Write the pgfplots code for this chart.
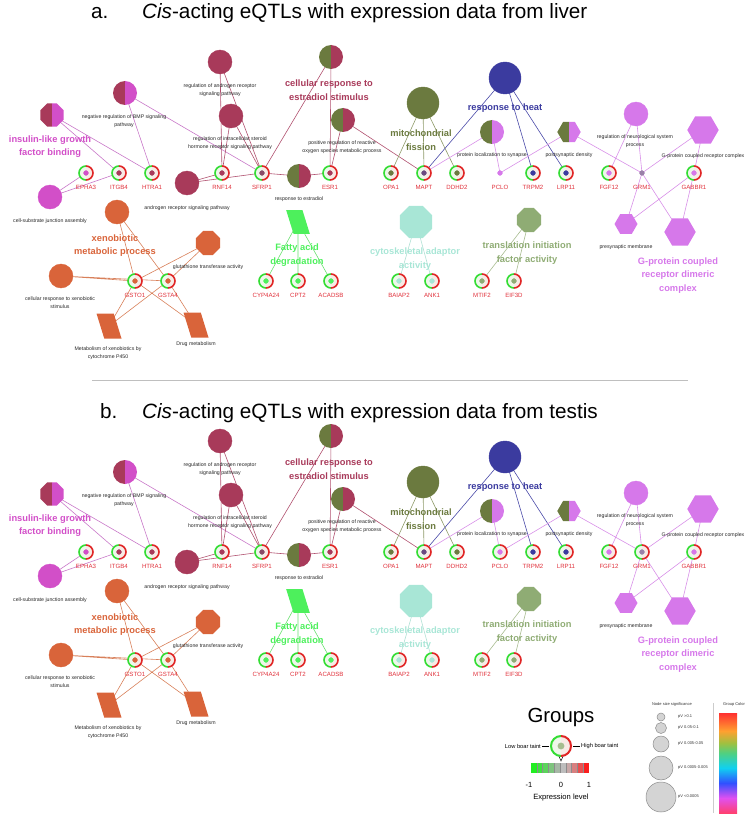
\documentclass[border=0pt]{standalone}
\usepackage{pgfplots}
\pgfplotsset{compat=1.18}
\usepackage{fontspec}
\setmainfont{Liberation Sans}
\definecolor{cPink}{HTML}{D24FC8}
\definecolor{cDRed}{HTML}{A83A5A}
\definecolor{cOlive}{HTML}{6B7A3F}
\definecolor{cBlue}{HTML}{3B3B9F}
\definecolor{cViolet}{HTML}{D678EA}
\definecolor{cOrange}{HTML}{D9643A}
\definecolor{cGreen}{HTML}{4DF05C}
\definecolor{cTeal}{HTML}{A8E6D6}
\definecolor{cSage}{HTML}{8FAC74}
\definecolor{ringG}{HTML}{33DD33}
\definecolor{ringR}{HTML}{E02525}
\definecolor{paleG}{HTML}{EEF7EA}
\definecolor{paleR}{HTML}{F7EBE6}
\definecolor{geneTxt}{HTML}{E0303A}
\definecolor{eP}{HTML}{C878C8}
\definecolor{eR}{HTML}{B0506E}
\definecolor{eO}{HTML}{8E9A68}
\definecolor{eB}{HTML}{4A4AA8}
\definecolor{eV}{HTML}{D890E8}
\definecolor{eOr}{HTML}{D8805A}
\definecolor{eG}{HTML}{6AE070}
\definecolor{eT}{HTML}{B0E0D4}
\definecolor{eS}{HTML}{A8BC90}
\definecolor{dSF}{HTML}{8A4A66}
\definecolor{dMA}{HTML}{6A4A80}
\definecolor{dGR}{HTML}{9A80A8}
\definecolor{rb1}{HTML}{FF4070}
\definecolor{rb2}{HTML}{E050F0}
\definecolor{rb3}{HTML}{3050FF}
\definecolor{rb4}{HTML}{10D0F0}
\definecolor{rb5}{HTML}{50D080}
\definecolor{rb6}{HTML}{A0C040}
\definecolor{rb7}{HTML}{FFA030}
\definecolor{rb8}{HTML}{FF3030}
\pgfdeclareverticalshading{rainbowbar}{100bp}{color(0bp)=(rb1); color(25bp)=(rb1); color(32.5bp)=(rb2); color(40bp)=(rb3); color(47.5bp)=(rb4); color(55bp)=(rb5); color(60bp)=(rb6); color(66bp)=(rb7); color(75bp)=(rb8); color(100bp)=(rb8)}
% plot marks
\pgfdeclareplotmark{hcL}{\pgfpathmoveto{\pgfqpoint{0pt}{\pgfplotmarksize}}\pgfpatharc{90}{270}{\pgfplotmarksize}\pgfpathclose\pgfusepathqfill}
\pgfdeclareplotmark{hcR}{\pgfpathmoveto{\pgfqpoint{0pt}{\pgfplotmarksize}}\pgfpatharc{90}{-90}{\pgfplotmarksize}\pgfpathclose\pgfusepathqfill}
\pgfdeclareplotmark{ringL}{\pgfpathmoveto{\pgfqpoint{0pt}{\pgfplotmarksize}}\pgfpatharc{90}{270}{\pgfplotmarksize}\pgfusepathqstroke}
\pgfdeclareplotmark{ringR}{\pgfpathmoveto{\pgfqpoint{0pt}{\pgfplotmarksize}}\pgfpatharc{90}{-90}{\pgfplotmarksize}\pgfusepathqstroke}
\pgfdeclareplotmark{octF}{%
\pgfpathmoveto{\pgfpointpolar{22.5}{\pgfplotmarksize}}%
\pgfpathlineto{\pgfpointpolar{67.5}{\pgfplotmarksize}}%
\pgfpathlineto{\pgfpointpolar{112.5}{\pgfplotmarksize}}%
\pgfpathlineto{\pgfpointpolar{157.5}{\pgfplotmarksize}}%
\pgfpathlineto{\pgfpointpolar{202.5}{\pgfplotmarksize}}%
\pgfpathlineto{\pgfpointpolar{247.5}{\pgfplotmarksize}}%
\pgfpathlineto{\pgfpointpolar{292.5}{\pgfplotmarksize}}%
\pgfpathlineto{\pgfpointpolar{337.5}{\pgfplotmarksize}}%
\pgfpathclose\pgfusepathqfill}
\pgfdeclareplotmark{octL}{%
\pgfpathmoveto{\pgfqpoint{0pt}{0.92388\pgfplotmarksize}}%
\pgfpathlineto{\pgfpointpolar{112.5}{\pgfplotmarksize}}%
\pgfpathlineto{\pgfpointpolar{157.5}{\pgfplotmarksize}}%
\pgfpathlineto{\pgfpointpolar{202.5}{\pgfplotmarksize}}%
\pgfpathlineto{\pgfpointpolar{247.5}{\pgfplotmarksize}}%
\pgfpathlineto{\pgfqpoint{0pt}{-0.92388\pgfplotmarksize}}%
\pgfpathclose\pgfusepathqfill}
\pgfdeclareplotmark{octR}{%
\pgfpathmoveto{\pgfqpoint{0pt}{0.92388\pgfplotmarksize}}%
\pgfpathlineto{\pgfpointpolar{67.5}{\pgfplotmarksize}}%
\pgfpathlineto{\pgfpointpolar{22.5}{\pgfplotmarksize}}%
\pgfpathlineto{\pgfpointpolar{-22.5}{\pgfplotmarksize}}%
\pgfpathlineto{\pgfpointpolar{-67.5}{\pgfplotmarksize}}%
\pgfpathlineto{\pgfqpoint{0pt}{-0.92388\pgfplotmarksize}}%
\pgfpathclose\pgfusepathqfill}
\pgfdeclareplotmark{hexF}{%
\pgfpathmoveto{\pgfpointpolar{0}{\pgfplotmarksize}}%
\pgfpathlineto{\pgfpointpolar{60}{\pgfplotmarksize}}%
\pgfpathlineto{\pgfpointpolar{120}{\pgfplotmarksize}}%
\pgfpathlineto{\pgfpointpolar{180}{\pgfplotmarksize}}%
\pgfpathlineto{\pgfpointpolar{240}{\pgfplotmarksize}}%
\pgfpathlineto{\pgfpointpolar{300}{\pgfplotmarksize}}%
\pgfpathclose\pgfusepathqfill}
\pgfdeclareplotmark{hexL}{%
\pgfpathmoveto{\pgfqpoint{0pt}{0.86603\pgfplotmarksize}}%
\pgfpathlineto{\pgfpointpolar{120}{\pgfplotmarksize}}%
\pgfpathlineto{\pgfpointpolar{180}{\pgfplotmarksize}}%
\pgfpathlineto{\pgfpointpolar{240}{\pgfplotmarksize}}%
\pgfpathlineto{\pgfqpoint{0pt}{-0.86603\pgfplotmarksize}}%
\pgfpathclose\pgfusepathqfill}
\pgfdeclareplotmark{hexR}{%
\pgfpathmoveto{\pgfqpoint{0pt}{0.86603\pgfplotmarksize}}%
\pgfpathlineto{\pgfpointpolar{60}{\pgfplotmarksize}}%
\pgfpathlineto{\pgfpointpolar{0}{\pgfplotmarksize}}%
\pgfpathlineto{\pgfpointpolar{-60}{\pgfplotmarksize}}%
\pgfpathlineto{\pgfqpoint{0pt}{-0.86603\pgfplotmarksize}}%
\pgfpathclose\pgfusepathqfill}
\pgfdeclareplotmark{para}{%
\pgfpathmoveto{\pgfqpoint{-\pgfplotmarksize}{\pgfplotmarksize}}%
\pgfpathlineto{\pgfqpoint{0.38\pgfplotmarksize}{\pgfplotmarksize}}%
\pgfpathlineto{\pgfqpoint{\pgfplotmarksize}{-\pgfplotmarksize}}%
\pgfpathlineto{\pgfqpoint{-0.38\pgfplotmarksize}{-\pgfplotmarksize}}%
\pgfpathclose\pgfusepathqfill}
% text helpers
\newcommand{\sm}[3]{\node[font=\fontsize{5.2}{7.8}\selectfont,align=center,text=black!85,inner sep=0pt] at (axis cs:#1,#2) {#3};}
\newcommand{\gl}[3]{\node[font=\fontsize{6.1}{7}\selectfont,text=geneTxt,inner sep=0pt] at (axis cs:#1,#2) {#3};}
\newcommand{\grp}[4]{\node[font=\bfseries\fontsize{9.3}{13.6}\selectfont,align=center,text=#4,inner sep=0pt] at (axis cs:#1,#2) {#3};}
\pgfplotsset{netaxis/.style={scale only axis, width=756pt, xmin=0, xmax=756, ymin=0, y dir=reverse, hide axis, clip=false}}
\newcommand{\network}[1]{%
% ---- edges
\addplot[eP, line width=0.6pt, unbounded coords=jump] coordinates {(52,115)(119,173) (nan,nan) (52,115)(152,173) (nan,nan) (125,93)(152,173) (nan,nan) (125,93)(262,173) (nan,nan) (50,197)(86,173) (nan,nan) (50,197)(119,173)};
\addplot[eR, line width=0.6pt, unbounded coords=jump] coordinates {(220,62)(222,173) (nan,nan) (220,62)(262,173) (nan,nan) (231,116)(222,173) (nan,nan) (231,116)(262,173) (nan,nan) (187,183)(222,173) (nan,nan) (187,183)(262,173) (nan,nan) (331,57)(262,173) (nan,nan) (331,57)(330,173) (nan,nan) (343,120)(330,173) (nan,nan) (343,120)(424,173) (nan,nan) (299,176)(262,173) (nan,nan) (299,176)(330,173)};
\addplot[eO, line width=0.6pt, unbounded coords=jump] coordinates {(423,103)(391,173) (nan,nan) (423,103)(424,173) (nan,nan) (423,103)(457,173)};
\addplot[eB, line width=0.6pt, unbounded coords=jump] coordinates {(505,78)(424,173) (nan,nan) (505,78)(533,173) (nan,nan) (505,78)(566,173)};
\addplot[eV, line width=0.6pt, unbounded coords=jump] coordinates {(492,132)(424,173) (nan,nan) (492,132)(500,173) (nan,nan) (569,132)(500,173) (nan,nan) (569,132)(642,173) (nan,nan) (636,114)(609,173) (nan,nan) (636,114)(642,173) (nan,nan) (703,130)(642,173) (nan,nan) (703,130)(694,173) (nan,nan) (626,224)(642,173) (nan,nan) (626,224)(694,173) (nan,nan) (680,232)(642,173) (nan,nan) (680,232)(694,173)};
\addplot[eOr, line width=0.6pt, unbounded coords=jump] coordinates {(117,212)(135,281) (nan,nan) (117,212)(168,281) (nan,nan) (208,243)(135,281) (nan,nan) (208,243)(168,281) (nan,nan) (61,276)(135,281) (nan,nan) (61,276)(168,281) (nan,nan) (109,326)(135,281) (nan,nan) (109,326)(168,281) (nan,nan) (196,325)(135,281) (nan,nan) (196,325)(168,281)};
\addplot[eG, line width=0.6pt, unbounded coords=jump] coordinates {(298,222)(266,281) (nan,nan) (298,222)(298,281) (nan,nan) (298,222)(331,281)};
\addplot[eT, line width=0.6pt, unbounded coords=jump] coordinates {(416,222)(399,281) (nan,nan) (416,222)(432,281)};
\addplot[eS, line width=0.6pt, unbounded coords=jump] coordinates {(529,220)(482,281) (nan,nan) (529,220)(514,281)};
% ---- term nodes
\addplot[only marks, mark=*, mark size=12, color=cPink] coordinates {(50,197)};
\addplot[only marks, mark=octL, mark size=12.5, color=cDRed] coordinates {(52,115)};
\addplot[only marks, mark=octR, mark size=12.5, color=cPink] coordinates {(52,115)};
\addplot[only marks, mark=hcL, mark size=12, color=cDRed] coordinates {(125,93)};
\addplot[only marks, mark=hcR, mark size=12, color=cPink] coordinates {(125,93)};
\addplot[only marks, mark=*, mark size=12, color=cDRed] coordinates {(220,62) (231,116) (187,183)};
\addplot[only marks, mark=hcL, mark size=12, color=cOlive] coordinates {(331,57) (343,120) (299,176) (492,132)};
\addplot[only marks, mark=hcR, mark size=12, color=cDRed] coordinates {(331,57) (343,120) (299,176)};
\addplot[only marks, mark=hcR, mark size=12, color=cViolet] coordinates {(492,132)};
\addplot[only marks, mark=*, mark size=16, color=cOlive] coordinates {(423,103)};
\addplot[only marks, mark=*, mark size=16, color=cBlue] coordinates {(505,78)};
\addplot[only marks, mark=hexL, mark size=11.7, color=cOlive] coordinates {(569,132)};
\addplot[only marks, mark=hexR, mark size=11.7, color=cViolet] coordinates {(569,132)};
\addplot[only marks, mark=*, mark size=12, color=cViolet] coordinates {(636,114)};
\addplot[only marks, mark=hexF, mark size=15.7, color=cViolet] coordinates {(703,130) (680,232)};
\addplot[only marks, mark=hexF, mark size=11.5, color=cViolet] coordinates {(626,224)};
\addplot[only marks, mark=*, mark size=12, color=cOrange] coordinates {(117,212) (61,276)};
\addplot[only marks, mark=octF, mark size=13, color=cOrange] coordinates {(208,243)};
\addplot[only marks, mark=para, mark size=12.5, color=cOrange] coordinates {(109,326) (196,325)};
\addplot[only marks, mark=para, mark size=11.8, color=cGreen] coordinates {(298,222)};
\addplot[only marks, mark=octF, mark size=17.5, color=cTeal] coordinates {(416,222)};
\addplot[only marks, mark=octF, mark size=13, color=cSage] coordinates {(529,220)};
% ---- gene rings
\addplot[only marks, mark=hcL, mark size=7, color=paleG] coordinates {(86,173) (119,173) (152,173) (222,173) (262,173) (330,173) (391,173) (424,173) (457,173) (533,173) (566,173) (609,173) (694,173) (135,281) (168,281) (266,281) (298,281) (331,281) (399,281) (432,281) (482,281) (514,281)};
\addplot[only marks, mark=hcR, mark size=7, color=paleR] coordinates {(86,173) (119,173) (152,173) (222,173) (262,173) (330,173) (391,173) (424,173) (457,173) (533,173) (566,173) (609,173) (694,173) (135,281) (168,281) (266,281) (298,281) (331,281) (399,281) (432,281) (482,281) (514,281)};
\addplot[only marks, mark=ringL, mark size=7, color=ringG, line width=1.6pt] coordinates {(86,173) (119,173) (152,173) (222,173) (262,173) (330,173) (391,173) (424,173) (457,173) (533,173) (566,173) (609,173) (694,173) (135,281) (168,281) (266,281) (298,281) (331,281) (399,281) (432,281) (482,281) (514,281)};
\addplot[only marks, mark=ringR, mark size=7, color=ringR, line width=1.6pt] coordinates {(86,173) (119,173) (152,173) (222,173) (262,173) (330,173) (391,173) (424,173) (457,173) (533,173) (566,173) (609,173) (694,173) (135,281) (168,281) (266,281) (298,281) (331,281) (399,281) (432,281) (482,281) (514,281)};
\ifnum#1=1
\addplot[only marks, mark=hcL, mark size=7, color=paleG] coordinates {(500,173) (642,173)};
\addplot[only marks, mark=hcR, mark size=7, color=paleR] coordinates {(500,173) (642,173)};
\addplot[only marks, mark=ringL, mark size=7, color=ringG, line width=1.6pt] coordinates {(500,173) (642,173)};
\addplot[only marks, mark=ringR, mark size=7, color=ringR, line width=1.6pt] coordinates {(500,173) (642,173)};
\fi
% ---- gene centre dots
\addplot[only marks, mark=*, mark size=2.4, color=cPink] coordinates {(86,173)};
\addplot[only marks, mark=*, mark size=2.4, color=cDRed] coordinates {(119,173) (152,173) (222,173) (330,173)};
\addplot[only marks, mark=*, mark size=2.4, color=dSF] coordinates {(262,173)};
\addplot[only marks, mark=*, mark size=2.4, color=cOlive] coordinates {(391,173) (457,173)};
\addplot[only marks, mark=*, mark size=2.4, color=dMA] coordinates {(424,173)};
\addplot[only marks, mark=*, mark size=2.4, color=cViolet] coordinates {(500,173) (609,173) (694,173)};
\addplot[only marks, mark=*, mark size=2.4, color=cBlue] coordinates {(533,173) (566,173)};
\addplot[only marks, mark=*, mark size=2.4, color=dGR] coordinates {(642,173)};
\addplot[only marks, mark=*, mark size=2.4, color=cOrange] coordinates {(135,281) (168,281)};
\addplot[only marks, mark=*, mark size=2.4, color=cGreen] coordinates {(266,281) (298,281) (331,281)};
\addplot[only marks, mark=*, mark size=2.4, color=cTeal] coordinates {(399,281) (432,281)};
\addplot[only marks, mark=*, mark size=2.4, color=cSage] coordinates {(482,281) (514,281)};
% ---- gene labels
\gl{86}{187}{EPHA3}\gl{119}{187}{ITGB4}\gl{152}{187}{HTRA1}\gl{222}{187}{RNF14}\gl{262}{187}{SFRP1}\gl{330}{187}{ESR1}
\gl{391}{187}{OPA1}\gl{424}{187}{MAPT}\gl{457}{187}{DDHD2}\gl{500}{187}{PCLO}\gl{533}{187}{TRPM2}\gl{566}{187}{LRP11}
\gl{609}{187}{FGF12}\gl{642}{187}{GRM1}\gl{694}{187}{GABBR1}
\gl{135}{295}{GSTO1}\gl{168}{295}{GSTA4}\gl{266}{295}{CYP4A24}\gl{298}{295}{CPT2}\gl{331}{295}{ACADSB}
\gl{399}{295}{BAIAP2}\gl{432}{295}{ANK1}\gl{482}{295}{MTIF2}\gl{514}{295}{EIF3D}
% ---- term labels
\sm{124}{121}{negative regulation of BMP signaling\\pathway}
\sm{220}{90}{regulation of androgen receptor\\signaling pathway}
\sm{230}{143}{regulation of intracellular steroid\\hormone receptor signaling pathway}
\sm{342}{147}{positive regulation of reactive\\oxygen species metabolic process}
\sm{299}{199}{response to estradiol}
\sm{50}{221}{cell-substrate junction assembly}
\sm{187}{208}{androgen receptor signaling pathway}
\sm{492}{155}{protein localization to synapse}
\sm{569}{155}{postsynaptic density}
\sm{635}{141}{regulation of neurological system\\process}
\sm{703}{156}{G-protein coupled receptor complex}
\sm{208}{267}{glutathione transferase activity}
\sm{60}{303}{cellular response to xenobiotic\\stimulus}
\sm{108}{353}{Metabolism of xenobiotics by\\cytochrome P450}
\sm{196}{344}{Drug metabolism}
\sm{626}{247}{presynaptic membrane}
% ---- group labels
\grp{50}{146.5}{insulin-like growth\\factor binding}{cPink}
\grp{329}{90}{cellular response to\\estradiol stimulus}{cDRed}
\grp{421}{140}{mitochondrial\\fission}{cOlive}
\grp{505}{108}{response to heat}{cBlue}
\grp{115}{245.5}{xenobiotic\\metabolic process}{cOrange}
\grp{297}{255}{Fatty acid\\degradation}{cGreen}
\grp{415}{259}{cytoskeletal adaptor\\activity}{cTeal}
\grp{527}{253}{translation initiation\\factor activity}{cSage}
\grp{678}{275.5}{G-protein coupled\\receptor dimeric\\complex}{cViolet}
}
\begin{document}
\begin{tikzpicture}
\useasboundingbox (0,0) rectangle (756pt,815pt);
% ================= panel a
\begin{axis}[netaxis, height=379pt, ymax=379, at={(0pt,436pt)}, anchor=south west]
\network{0}
\node[font=\fontsize{20.7}{24}\selectfont, anchor=base west, inner sep=0pt] at (axis cs:91,18.5) {a.};
\node[font=\fontsize{20.7}{24}\selectfont, anchor=base west, inner sep=0pt] at (axis cs:142,18.5) {\textit{Cis}-acting eQTLs with expression data from liver};
\addplot[black!25, line width=0.8pt] coordinates {(92,380) (688,380)};
\end{axis}
% ================= panel b
\begin{axis}[netaxis, height=436pt, ymax=436, at={(0pt,0pt)}, anchor=south west]
\network{1}
\node[font=\fontsize{20.7}{24}\selectfont, anchor=base west, inner sep=0pt] at (axis cs:100,39.5) {b.};
\node[font=\fontsize{20.7}{24}\selectfont, anchor=base west, inner sep=0pt] at (axis cs:142,39.5) {\textit{Cis}-acting eQTLs with expression data from testis};
% ---- legend: groups
\node[font=\fontsize{20.4}{24}\selectfont, inner sep=0pt] at (axis cs:561,338) {Groups};
\addplot[only marks, mark=hcL, mark size=10, color=paleG] coordinates {(561,367)};
\addplot[only marks, mark=hcR, mark size=10, color=paleR] coordinates {(561,367)};
\addplot[only marks, mark=ringL, mark size=10, color=ringG, line width=2pt] coordinates {(561,367)};
\addplot[only marks, mark=ringR, mark size=10, color=ringR, line width=2pt] coordinates {(561,367)};
\addplot[only marks, mark=*, mark size=3.2, color=cSage!80] coordinates {(561,367)};
\addplot[black, line width=0.5pt] coordinates {(542,367) (549,367)};
\addplot[black, line width=0.5pt] coordinates {(573,367) (580,367)};
\addplot[black, line width=0.5pt] coordinates {(558,375) (561,382) (564,375)};
\node[font=\fontsize{5.7}{7}\selectfont, anchor=east, inner sep=0pt] at (axis cs:541,367) {Low boar taint};
\node[font=\fontsize{5.7}{7}\selectfont, anchor=west, inner sep=0pt] at (axis cs:581,367) {High boar taint};
\fill[fill={rgb,255:red,34;green,238;blue,34}] (axis cs:531,384) rectangle (axis cs:536.8,394);
\fill[fill={rgb,255:red,62;green,226;blue,62}] (axis cs:536.8,384) rectangle (axis cs:542.6,394);
\fill[fill={rgb,255:red,92;green,211;blue,92}] (axis cs:542.6,384) rectangle (axis cs:548.4,394);
\fill[fill={rgb,255:red,126;green,196;blue,126}] (axis cs:548.4,384) rectangle (axis cs:554.2,394);
\fill[fill={rgb,255:red,166;green,184;blue,166}] (axis cs:554.2,384) rectangle (axis cs:560,394);
\fill[fill={rgb,255:red,189;green,189;blue,189}] (axis cs:560,384) rectangle (axis cs:565.8,394);
\fill[fill={rgb,255:red,200;green,168;blue,168}] (axis cs:565.8,384) rectangle (axis cs:571.6,394);
\fill[fill={rgb,255:red,216;green,128;blue,128}] (axis cs:571.6,384) rectangle (axis cs:577.4,394);
\fill[fill={rgb,255:red,232;green,80;blue,80}] (axis cs:577.4,384) rectangle (axis cs:583.2,394);
\fill[fill={rgb,255:red,250;green,30;blue,30}] (axis cs:583.2,384) rectangle (axis cs:589,394);
\addplot[black!45, line width=0.5pt, unbounded coords=jump] coordinates {(536.8,384)(536.8,394) (nan,nan) (542.6,384)(542.6,394) (nan,nan) (548.4,384)(548.4,394) (nan,nan) (554.2,384)(554.2,394) (nan,nan) (560,384)(560,394) (nan,nan) (565.8,384)(565.8,394) (nan,nan) (571.6,384)(571.6,394) (nan,nan) (577.4,384)(577.4,394) (nan,nan) (583.2,384)(583.2,394)};
\node[font=\fontsize{7.5}{9}\selectfont, inner sep=0pt] at (axis cs:529,406) {-1};
\node[font=\fontsize{7.5}{9}\selectfont, inner sep=0pt] at (axis cs:561,406) {0};
\node[font=\fontsize{7.5}{9}\selectfont, inner sep=0pt] at (axis cs:589,406) {1};
\node[font=\fontsize{7.6}{9}\selectfont, inner sep=0pt] at (axis cs:561,419) {Expression level};
% ---- legend: node size
\node[font=\fontsize{4}{5}\selectfont, text=black!80, inner sep=0pt] at (axis cs:672,325) {Node size significance};
\addplot[only marks, mark=*, mark size=4, mark options={fill=black!17, draw=black!45, line width=0.5pt}] coordinates {(661,338)};
\addplot[only marks, mark=*, mark size=5.5, mark options={fill=black!17, draw=black!45, line width=0.5pt}] coordinates {(661,349)};
\addplot[only marks, mark=*, mark size=8, mark options={fill=black!17, draw=black!45, line width=0.5pt}] coordinates {(661,365)};
\addplot[only marks, mark=*, mark size=12, mark options={fill=black!17, draw=black!45, line width=0.5pt}] coordinates {(661,389)};
\addplot[only marks, mark=*, mark size=15, mark options={fill=black!17, draw=black!45, line width=0.5pt}] coordinates {(661,418)};
\node[font=\fontsize{4}{5}\selectfont, text=black!80, anchor=west, inner sep=0pt] at (axis cs:678,338) {pV >0.1};
\node[font=\fontsize{4}{5}\selectfont, text=black!80, anchor=west, inner sep=0pt] at (axis cs:678,349) {pV 0.05-0.1};
\node[font=\fontsize{4}{5}\selectfont, text=black!80, anchor=west, inner sep=0pt] at (axis cs:678,365) {pV 0.005-0.05};
\node[font=\fontsize{4}{5}\selectfont, text=black!80, anchor=west, inner sep=0pt] at (axis cs:678,389) {pV 0.0005-0.005};
\node[font=\fontsize{4}{5}\selectfont, text=black!80, anchor=west, inner sep=0pt] at (axis cs:678,418) {pV <0.0005};
\addplot[black!20, line width=0.6pt] coordinates {(713,324) (713,434)};
\node[font=\fontsize{4}{5}\selectfont, text=black!80, inner sep=0pt] at (axis cs:734,325) {Group Color};
\shade[shading=rainbowbar] (axis cs:719,334) rectangle (axis cs:737,434);
\end{axis}
\end{tikzpicture}
\end{document}
